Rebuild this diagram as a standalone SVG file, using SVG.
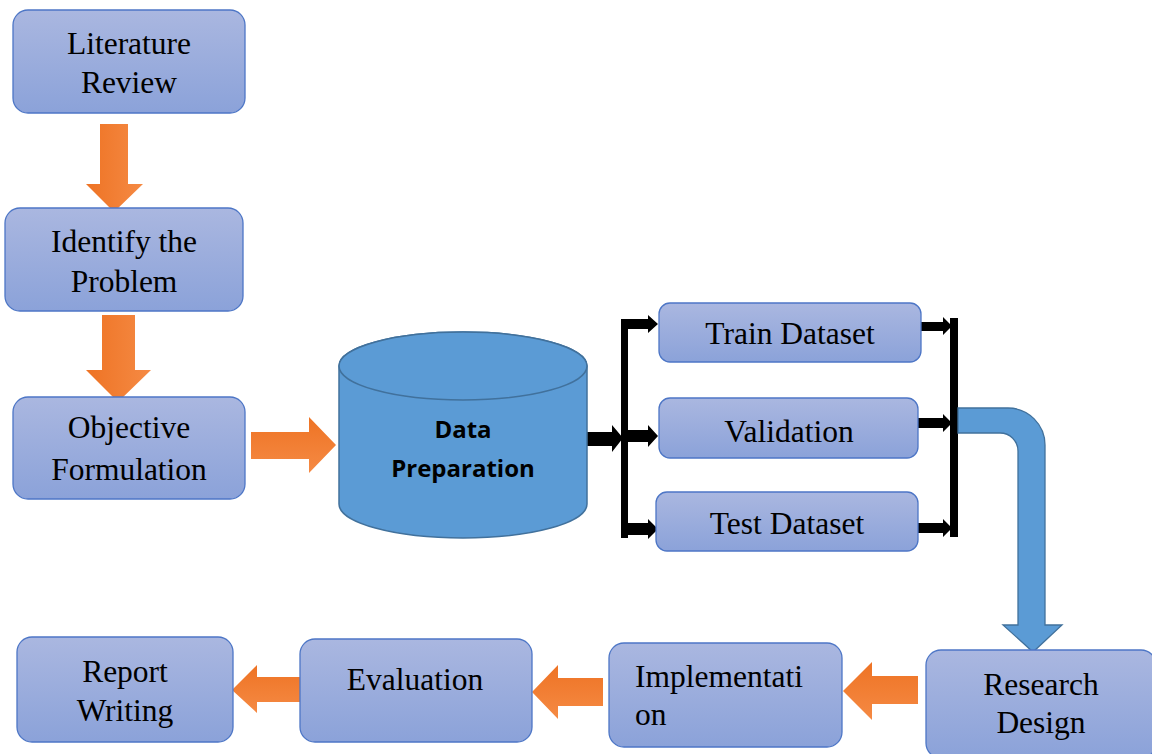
<svg xmlns="http://www.w3.org/2000/svg" width="1152" height="754" viewBox="0 0 1152 754">
  <defs>
    <linearGradient id="boxFill" x1="0" y1="0" x2="0" y2="1">
      <stop offset="0" stop-color="#aab7e0"/>
      <stop offset="1" stop-color="#8ba2d9"/>
    </linearGradient>
    <linearGradient id="orangeV" x1="0" y1="0" x2="1" y2="0">
      <stop offset="0" stop-color="#ee7324"/>
      <stop offset="1" stop-color="#f58a44"/>
    </linearGradient>
    <linearGradient id="orangeH" x1="0" y1="0" x2="0" y2="1">
      <stop offset="0" stop-color="#ee7324"/>
      <stop offset="1" stop-color="#f58a44"/>
    </linearGradient>
    <style>
      .box { fill: url(#boxFill); stroke: #4d76c6; stroke-width: 1.3; }
      .label { font-family: "Liberation Serif", "Times New Roman", serif; font-size: 31.5px; fill: #000; text-anchor: middle; }
      .left { text-anchor: start; }
      .db { fill: #5b9bd5; stroke: #41719c; stroke-width: 1.5; }
      .dbText { font-family: "Open Sans", "Liberation Sans", sans-serif; font-weight: bold; font-size: 24px; fill: #000; text-anchor: middle; }
      .arrowV { fill: url(#orangeV); }
      .arrowH { fill: url(#orangeH); }
      .black { fill: #000; }
      .bend { fill: #5b9bd5; stroke: #41719c; stroke-width: 1.3; }
    </style>
  </defs>

  <rect width="1152" height="754" fill="#fff"/>

  <!-- connectors -->
  <g id="connectors">
    <!-- orange block arrows -->
    <path class="arrowV" d="M100 124 H128 V184 H143 L114 212 L86 184 H100 Z"/>
    <path class="arrowV" d="M102 315 H135 V370 H151 L118 402 L86 370 H102 Z"/>
    <path class="arrowH" d="M251 432 H309 V417 L336 445 L309 473 V459 H251 Z"/>
    <path class="arrowH" d="M918 676 H872 V662 L843 691 L872 720 V704 H918 Z"/>
    <path class="arrowH" d="M603 678 H558 V665 L532 692 L558 719 V706 H603 Z"/>
    <path class="arrowH" d="M300 677 H257 V665 L232 690 L257 713 V702 H300 Z"/>

    <!-- split from the data store -->
    <path class="black" d="M587 432 H612 V425 L623 438 L612 452 V446 H587 Z"/>
    <rect class="black" x="621" y="319" width="7" height="219"/>
    <path class="black" d="M628 319 H648 V315 L658 324 L648 333 V329 H628 Z"/>
    <path class="black" d="M628 430 H648 V425 L658 436 L648 447 V442 H628 Z"/>
    <path class="black" d="M628 523 H648 V519 L658 529 L648 539 V535 H628 Z"/>

    <!-- merge into the bar -->
    <path class="black" d="M921 322 H943 V317 L952 326 L943 335 V331 H921 Z"/>
    <path class="black" d="M918 418 H943 V414 L952 423 L943 432 V428 H918 Z"/>
    <path class="black" d="M918 523 H943 V519 L952 528 L943 537 V533 H918 Z"/>
    <rect class="black" x="950" y="318" width="8" height="219"/>

    <!-- bent blue arrow to research design -->
    <path class="bend" d="M958 408 H1008 A37 37 0 0 1 1045 445 V625 H1062 L1033 652 L1003 625 H1018 V451 A18 18 0 0 0 1000 433 H958 Z"/>
  </g>

  <g id="literature-review">
    <rect class="box" x="13" y="10" width="232" height="103" rx="15"/>
    <text class="label" x="129" y="54">Literature</text>
    <text class="label" x="129" y="93">Review</text>
  </g>

  <g id="identify-problem">
    <rect class="box" x="5" y="208" width="238" height="103" rx="15"/>
    <text class="label" x="124" y="252">Identify the</text>
    <text class="label" x="124" y="292">Problem</text>
  </g>

  <g id="objective-formulation">
    <rect class="box" x="13" y="397" width="232" height="102" rx="15"/>
    <text class="label" x="129" y="438">Objective</text>
    <text class="label" x="129" y="480">Formulation</text>
  </g>

  <g id="data-preparation">
    <path class="db" d="M339 366 V504 A124 34 0 0 0 587 504 V366 A124 34 0 0 0 339 366 Z"/>
    <ellipse class="db" cx="463" cy="366" rx="124" ry="34"/>
    <text class="dbText" x="463" y="438">Data</text>
    <text class="dbText" x="463" y="477">Preparation</text>
  </g>

  <g id="train-dataset">
    <rect class="box" x="659" y="303" width="262" height="59" rx="11"/>
    <text class="label" x="790" y="344">Train Dataset</text>
  </g>

  <g id="validation">
    <rect class="box" x="659" y="398" width="259" height="60" rx="11"/>
    <text class="label" x="789" y="442">Validation</text>
  </g>

  <g id="test-dataset">
    <rect class="box" x="656" y="492" width="262" height="59" rx="11"/>
    <text class="label" x="787" y="534">Test Dataset</text>
  </g>

  <g id="research-design">
    <rect class="box" x="926" y="650" width="230" height="108" rx="15"/>
    <text class="label" x="1041" y="695">Research</text>
    <text class="label" x="1041" y="733">Design</text>
  </g>

  <g id="implementation">
    <rect class="box" x="609" y="643" width="233" height="104" rx="15"/>
    <text class="label left" x="635" y="687">Implementati</text>
    <text class="label left" x="635" y="725">on</text>
  </g>

  <g id="evaluation">
    <rect class="box" x="300" y="639" width="232" height="103" rx="15"/>
    <text class="label" x="415" y="690">Evaluation</text>
  </g>

  <g id="report-writing">
    <rect class="box" x="17" y="637" width="216" height="105" rx="15"/>
    <text class="label" x="125" y="682">Report</text>
    <text class="label" x="125" y="721">Writing</text>
  </g>
</svg>
